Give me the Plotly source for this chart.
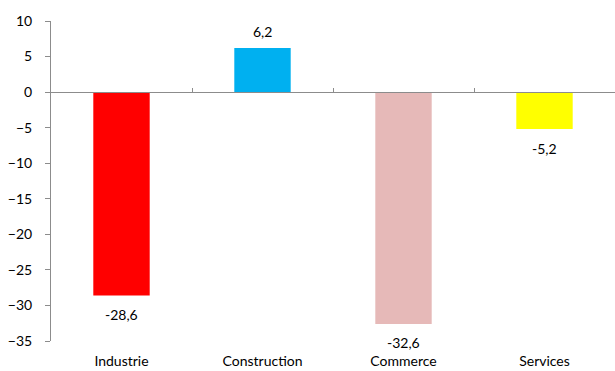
import plotly.graph_objects as go

categories = ["Industrie", "Construction", "Commerce", "Services"]
values = [-28.6, 6.2, -32.6, -5.2]
colors = ["#FF0000", "#00B0F0", "#E6B9B8", "#FFFF00"]
tick_vals = [10, 5, 0, -5, -10, -15, -20, -25, -30, -35]

FONT = "Lato, Carlito, Calibri, sans-serif"
AX = "#8C8C8C"

fig = go.Figure()
fig.add_trace(go.Bar(
    x=categories, y=values,
    marker=dict(color=colors, line=dict(width=0)),
    hoverinfo="x+y",
))

# value labels
for c, v in zip(categories, values):
    fig.add_annotation(x=c, y=v, text=f"{v:.1f}".replace(".", ","),
                       showarrow=False, yanchor="middle",
                       yshift=17 if v >= 0 else -19,
                       font=dict(family=FONT, size=14, color="#000000"))

# zero line with category boundary ticks (overlay axis)
fig.add_trace(go.Scatter(x=categories, y=[0]*len(categories), xaxis="x2",
                         mode="markers", marker=dict(opacity=0), hoverinfo="skip",
                         showlegend=False))

fig.update_layout(
    width=615, height=371,
    margin=dict(l=51, r=0, t=21, b=30, autoexpand=False),
    paper_bgcolor="white", plot_bgcolor="white",
    separators=", ",
    bargap=0.6,
    showlegend=False,
    font=dict(family=FONT, size=14, color="#000000"),
    xaxis=dict(showline=False, ticks="", showgrid=False, zeroline=False,
               automargin=False,
               ticklabelstandoff=10, tickfont=dict(family=FONT, size=14)),
    xaxis2=dict(overlaying="x", anchor="free", position=35/45, side="bottom",
                matches="x", showline=True, linecolor=AX, linewidth=1,
                automargin=False,
                ticks="inside", tickson="boundaries", ticklen=4, tickcolor=AX,
                showticklabels=False, showgrid=False, zeroline=False),
    yaxis=dict(range=[-35, 10], tickvals=tick_vals, showline=True, linecolor=AX,
               linewidth=1, ticks="outside", ticklen=5, tickcolor=AX,
               automargin=False,
               showgrid=False, zeroline=False, tickfont=dict(family=FONT, size=14),
               ticklabelstandoff=10),
)

fig.write_html("out.html", config={"displayModeBar": False},
               post_script="document.body.style.margin='0';document.body.style.overflow='hidden';")
